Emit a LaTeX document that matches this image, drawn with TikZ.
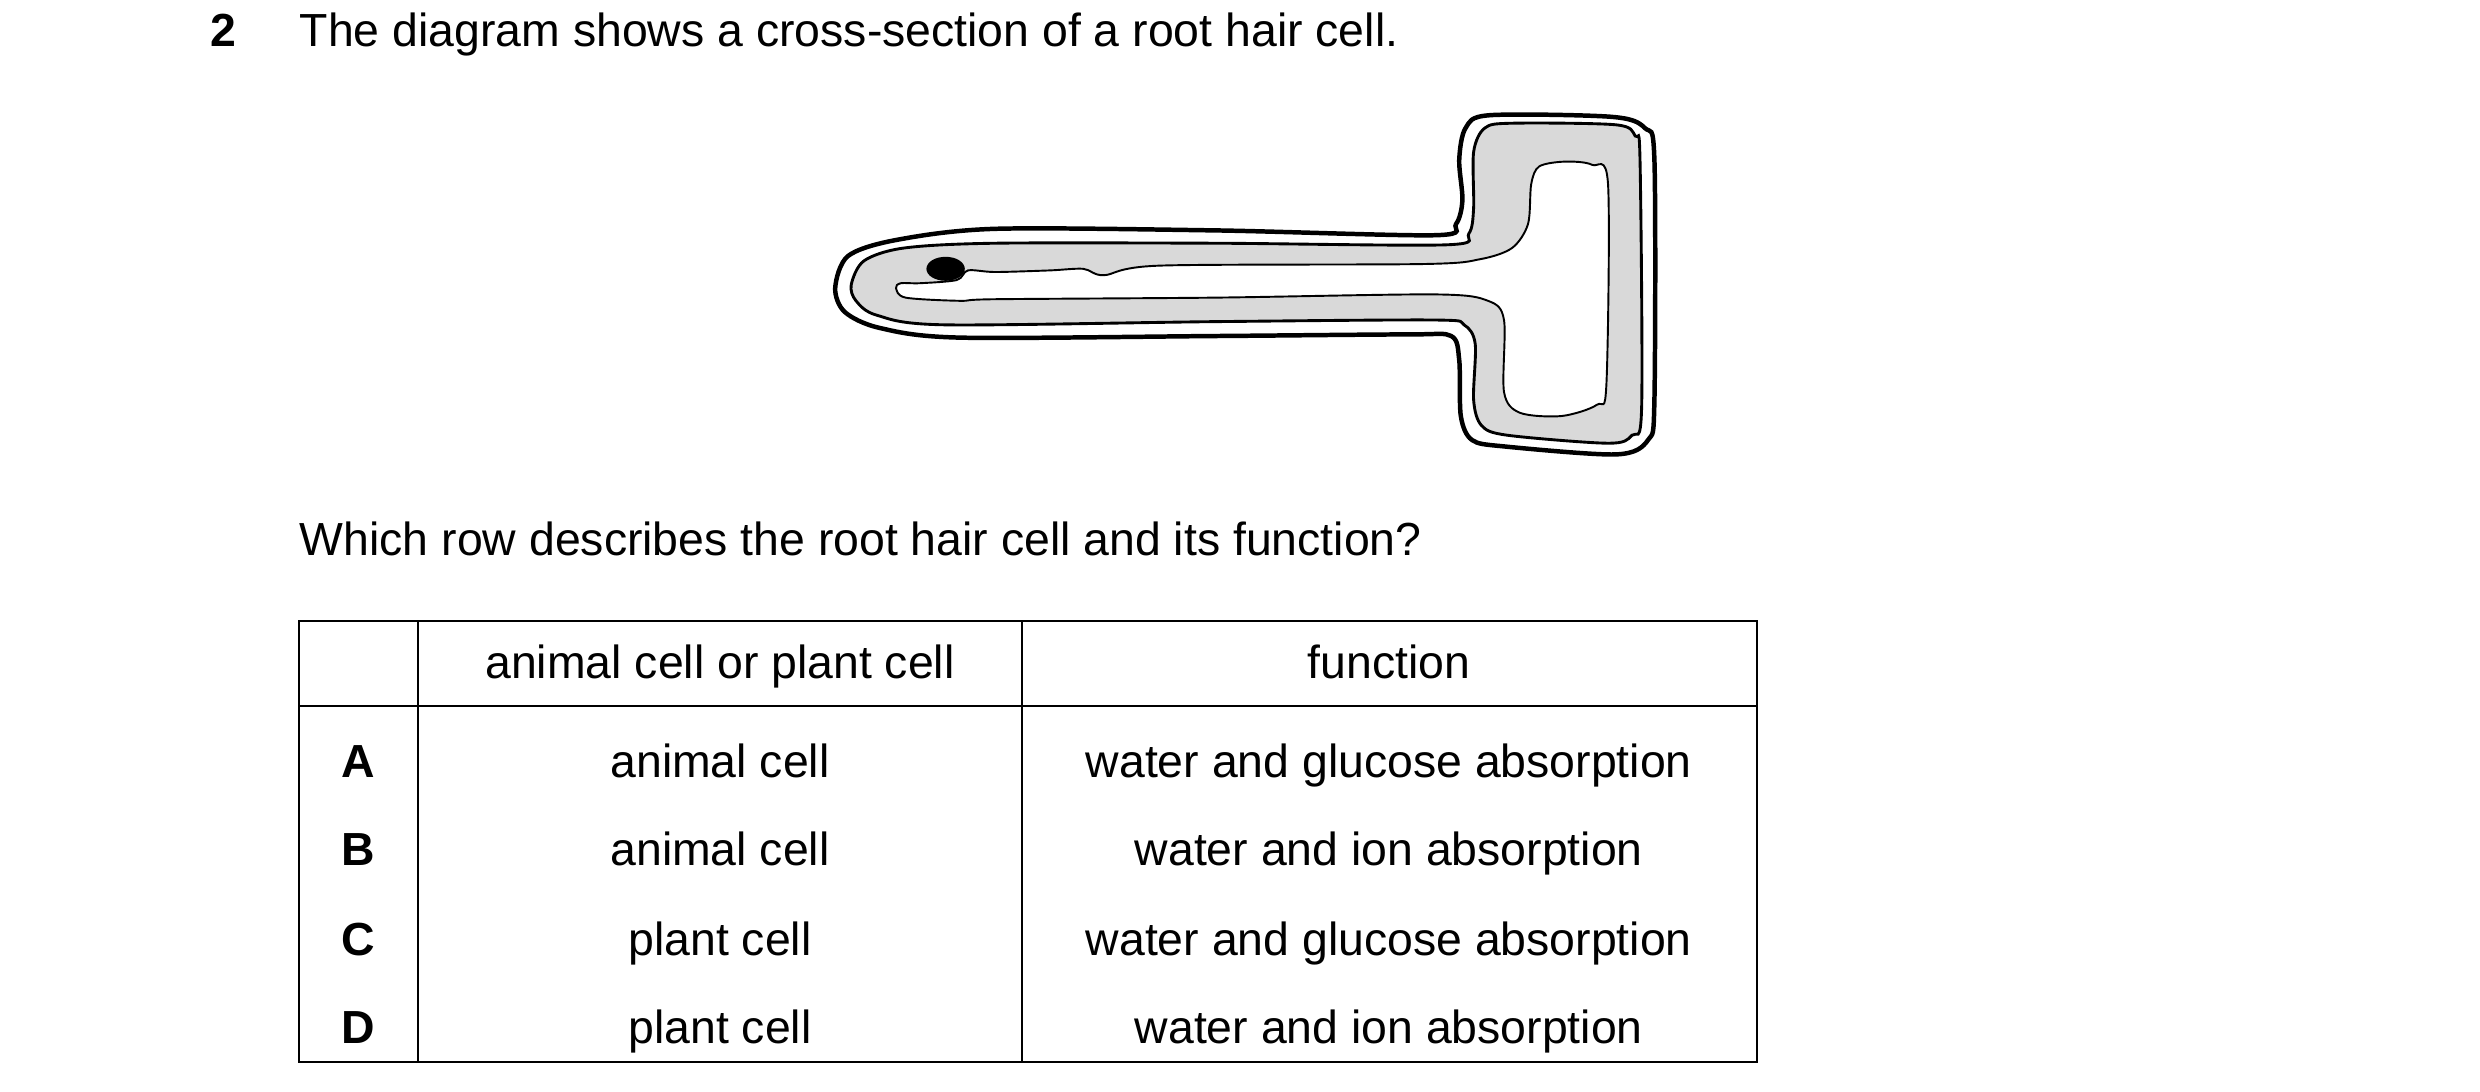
\documentclass[tikz,border=0pt]{standalone}
\usepackage{fontspec}
\setmainfont{Liberation Sans}
\begin{document}
\begin{tikzpicture}[x=0.5pt,y=-0.5pt,
  txt/.style={inner sep=0pt,font=\fontsize{14.5}{17}\selectfont},
  lbl/.style={txt,anchor=base west},
  cellt/.style={txt,anchor=base},
  grid/.style={line width=0.6pt},
  wall/.style={line width=1.4pt},
  memb/.style={line width=0.9pt,fill=black!15},
  vac/.style={line width=0.6pt,fill=white}]
\path[use as bounding box] (0,0) rectangle (1550,682);
\node[lbl,font=\fontsize{14.5}{17}\selectfont\bfseries] (num) at (131,29) {2};
\node[lbl] (q1) at (187,29) {The diagram shows a cross-section of a root hair cell.};
\node[lbl] (q2) at (187,347) {Which row describes the root hair cell and its function?};
% cell
\draw[wall] plot[smooth cycle,tension=0.5] coordinates {(522,180) (530,160) (560,150) (622,143) (760,144) (897,147) (910,140) (914,125) (912,100) (916,80) (931,72) (1007,73) (1028,80) (1034,100) (1034,250) (1030,275) (1010,284) (940,279) (920,275) (913,260) (912,225) (907,210) (880,209) (760,210) (600,211) (550,205) (528,195)};
\draw[memb] plot[smooth cycle,tension=0.5] coordinates {(532,178) (540,163) (565,155) (622,152) (760,152) (904,153) (918,146) (921,130) (921,95) (928,80) (945,77) (1010,78) (1022,85) (1025,100) (1026,255) (1020,272) (1005,277) (942,272) (926,266) (921,250) (922,215) (915,203) (897,200) (760,201) (590,203) (548,197) (535,188)};
\draw[vac] plot[smooth cycle,tension=0.5] coordinates {(560,180) (566,186) (600,188) (622,187) (760,186) (897,184) (930,188) (940,200) (940,245) (950,258) (976,260) (998,253) (1004,240) (1005,115) (995,103) (978,101) (962,104) (957,115) (955,140) (945,155) (925,162) (890,165) (725,166) (690,172) (677,168) (656,169) (622,170) (605,169) (598,175) (575,177) (563,177)};
\fill (591,168) ellipse[x radius=12,y radius=7.5];
% table
\draw[grid] (187,388) rectangle (1098,664);
\draw[grid] (187,441) -- (1098,441);
\draw[grid] (261,388) -- (261,664);
\draw[grid] (639,388) -- (639,664);
\node[cellt] (h1) at (450,424) {animal cell or plant cell};
\node[cellt] (h2) at (868,424) {function};
\foreach \l/\a/\f/\y in {A/animal cell/water and glucose absorption/486,B/animal cell/water and ion absorption/541,C/plant cell/water and glucose absorption/597,D/plant cell/water and ion absorption/652}{
  \node[cellt,font=\fontsize{14.5}{17}\selectfont\bfseries] (r\l) at (224,\y) {\l};
  \node[cellt] (a\l) at (450,\y) {\a};
  \node[cellt] (f\l) at (868,\y) {\f};
}
\end{tikzpicture}
\end{document}
